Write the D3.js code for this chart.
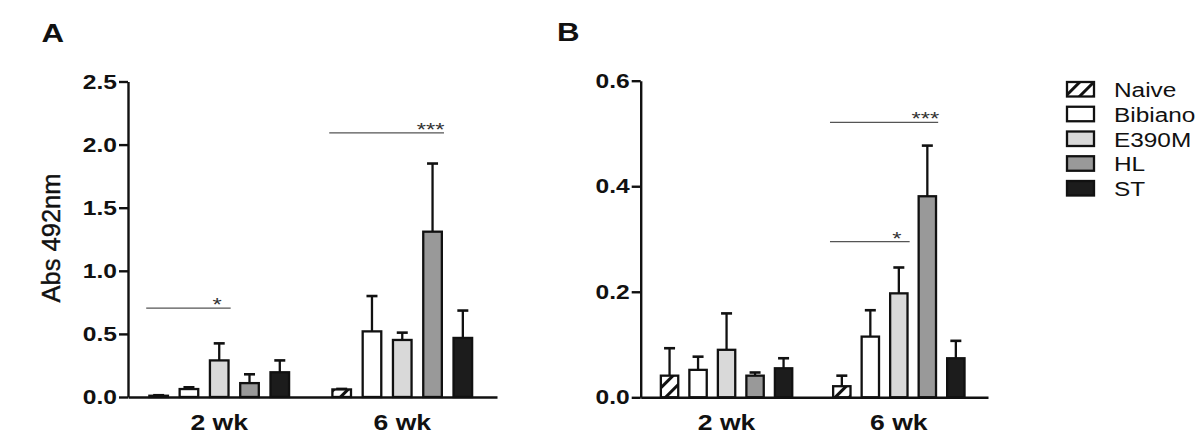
<!DOCTYPE html>
<html><head><meta charset="utf-8">
<script src="https://cdn.jsdelivr.net/npm/d3@7"></script>
<style>body{margin:0;background:#fff}svg{display:block}text{font-family:"Liberation Sans",Arial,sans-serif}</style>
</head><body><div id="chart"></div>
<script>
// ---------- data ----------
const groups = ["2 wk", "6 wk"];
const series = ["Naive", "Bibiano", "E390M", "HL", "ST"];
const fills = ["url(#hatch)", "#ffffff", "#d9d9d9", "#999999", "#1c1c1c"];

const aMean2wk = [0.01, 0.063, 0.29, 0.11, 0.196];
const aErr2wk  = [0.004, 0.014, 0.135, 0.07, 0.094];
const aMean6wk = [0.06, 0.52, 0.452, 1.31, 0.468];
const aErr6wk  = [0.004, 0.28, 0.058, 0.54, 0.217];

const bMean2wk = [0.041, 0.052, 0.09, 0.041, 0.055];
const bErr2wk  = [0.052, 0.025, 0.069, 0.006, 0.019];
const bMean6wk = [0.021, 0.115, 0.197, 0.381, 0.074];
const bErr6wk  = [0.020, 0.050, 0.049, 0.096, 0.033];

const aTicks = [0, 0.5, 1.0, 1.5, 2.0, 2.5];
const bTicks = [0, 0.2, 0.4, 0.6];

const aSig = [{group: "2 wk", to: "E390M", y: 0.704, label: "*"},
              {group: "6 wk", to: "HL", y: 2.093, label: "***"}];
const bSig = [{group: "6 wk", to: "HL", y: 0.521, label: "***"},
              {group: "6 wk", to: "E390M", y: 0.295, label: "*"}];

// ---------- drawing ----------
const W = 1200, H = 447;
const SX = 1.25; // horizontal text stretch seen in the reference
const svg = d3.select("#chart").append("svg").attr("width", W).attr("height", H);

const defs = svg.append("defs");
const pat = defs.append("pattern").attr("id", "hatch")
  .attr("patternUnits", "userSpaceOnUse").attr("width", 10).attr("height", 10)
  .attr("patternTransform", "rotate(45)");
pat.append("rect").attr("width", 10).attr("height", 10).attr("fill", "#fff");
pat.append("rect").attr("x", 0).attr("y", 0).attr("width", 3).attr("height", 10)
  .attr("fill", "#111");

function stretchedText(g, x, y, txt, size, weight, anchor, color) {
  return g.append("text")
    .attr("transform", `translate(${x},${y}) scale(${SX},1)`)
    .attr("font-size", size).attr("font-weight", weight)
    .attr("text-anchor", anchor || "start").attr("fill", color || "#111")
    .text(txt);
}

function drawPanel(cfg) {
  const g = svg.append("g");
  const x = d3.scaleBand().domain(groups).range([cfg.left, cfg.right])
    .paddingInner(0.224).paddingOuter(0.12).align(0.46);
  const xi = d3.scaleBand().domain(series).range([0, x.bandwidth()])
    .paddingInner(0.31).paddingOuter(0);
  const y = d3.scaleLinear().domain(cfg.domain).range([cfg.bottom, cfg.top]);
  const sw = 2.3;

  // bars
  groups.forEach((grp, gi) => {
    const means = cfg.means[gi], errs = cfg.errs[gi];
    const gg = g.append("g");
    series.forEach((s, si) => {
      const x0 = x(grp) + xi(s);
      const cx = x0 + xi.bandwidth() / 2;
      if (errs[si] > 0) {
        gg.append("line").attr("x1", cx).attr("x2", cx)
          .attr("y1", y(means[si])).attr("y2", y(means[si] + errs[si]))
          .attr("stroke", "#111").attr("stroke-width", 2.3);
        gg.append("line").attr("x1", cx - 5.5).attr("x2", cx + 5.5)
          .attr("y1", y(means[si] + errs[si])).attr("y2", y(means[si] + errs[si]))
          .attr("stroke", "#111").attr("stroke-width", 2.6);
      }
      gg.append("rect")
        .attr("x", x0 + sw / 2).attr("width", xi.bandwidth() - sw)
        .attr("y", y(means[si])).attr("height", y(0) - y(means[si]))
        .attr("fill", fills[si]).attr("stroke", "#111").attr("stroke-width", sw);
    });
  });

  // y axis
  const ya = g.append("g").attr("transform", `translate(${cfg.left},0)`)
    .call(d3.axisLeft(y).tickValues(cfg.ticks).tickFormat(d3.format(".1f"))
      .tickSize(9).tickSizeOuter(0).tickPadding(2));
  ya.select(".domain").attr("stroke", "#111").attr("stroke-width", 2.4);
  ya.selectAll(".tick line").attr("stroke", "#111").attr("stroke-width", 2.4);
  ya.selectAll(".tick text").each(function () {
    const t = d3.select(this);
    const tx = +t.attr("x");
    t.attr("x", 0).attr("transform", `translate(${tx},0) scale(1.2,1)`)
      .attr("font-size", 20.5).attr("font-weight", "bold").attr("fill", "#111")
      .attr("font-family", "Liberation Sans, Arial, sans-serif");
  });

  // x axis
  const xa = g.append("g").attr("transform", `translate(0,${cfg.bottom})`)
    .call(d3.axisBottom(x).tickSize(0).tickSizeOuter(0).tickPadding(17));
  xa.select(".domain").attr("stroke", "#111").attr("stroke-width", 2.4);
  xa.selectAll(".tick text").attr("transform", `scale(1.18,1)`)
    .attr("font-size", 22.5).attr("font-weight", "bold").attr("fill", "#111")
    .attr("font-family", "Liberation Sans, Arial, sans-serif");

  // significance annotations
  cfg.sig.forEach(a => {
    const xStart = x(a.group) + xi("Naive") - 2;
    const xEnd = x(a.group) + xi(a.to) + xi.bandwidth() + 1;
    g.append("line").attr("x1", xStart).attr("x2", xEnd)
      .attr("y1", y(a.y)).attr("y2", y(a.y))
      .attr("stroke", "#555").attr("stroke-width", 1.4);
    stretchedText(g, x(a.group) + xi(a.to) + xi.bandwidth() / 2 - 2, y(a.y) + 3,
      a.label, 19, "normal", "middle", "#333");
  });

  // panel label
  stretchedText(g, cfg.labelX, cfg.labelY, cfg.label, 25, "bold", "start", "#111");
  return {x, y};
}

drawPanel({label: "A", labelX: 41.5, labelY: 42, left: 128, right: 497, top: 81.5, bottom: 397,
  domain: [0, 2.5], ticks: aTicks, means: [aMean2wk, aMean6wk], errs: [aErr2wk, aErr6wk], sig: aSig});
drawPanel({label: "B", labelX: 557, labelY: 40.5, left: 640.7, right: 988, top: 80.7, bottom: 397.3,
  domain: [0, 0.6], ticks: bTicks, means: [bMean2wk, bMean6wk], errs: [bErr2wk, bErr6wk], sig: bSig});

// y title
svg.append("text").attr("transform", "translate(60,238) rotate(-90)")
  .attr("text-anchor", "middle").attr("font-size", 25.5).attr("fill", "#111")
  .attr("stroke", "#111").attr("stroke-width", 0.4)
  .text("Abs 492nm");

// legend
const leg = svg.append("g");
const ly = d3.scaleBand().domain(series).range([81, 81 + 24.75 * 5]);
series.forEach((s, i) => {
  leg.append("rect").attr("x", 1067).attr("y", ly(s) + 1).attr("width", 27).attr("height", 14.5)
    .attr("fill", fills[i]).attr("stroke", "#111").attr("stroke-width", 2.3);
  stretchedText(leg, 1114, ly(s) + 16, s, 19.5, "normal", "start", "#111");
});
</script></body></html>
